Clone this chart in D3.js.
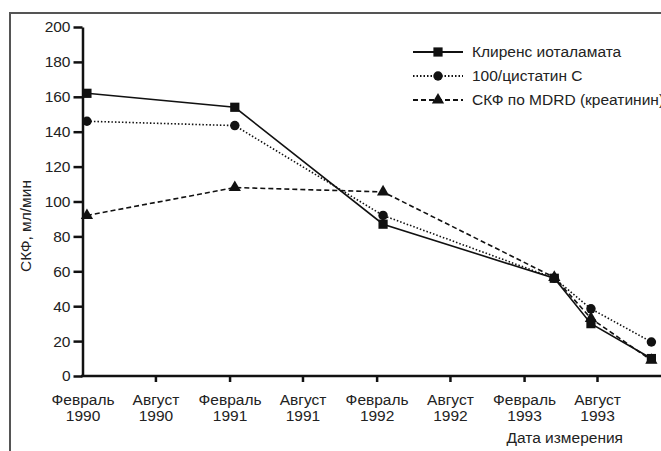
<!DOCTYPE html>
<html>
<head>
<meta charset="utf-8">
<script src="https://cdn.jsdelivr.net/npm/d3@7"></script>
<style>
  body { margin: 0; background: #fff; }
  svg { display: block; }
</style>
</head>
<body>
<svg id="chart" width="661" height="451"></svg>
<script>
var width = 661,
  height = 451,
  font = "'Liberation Sans', Arial, sans-serif",
  fontSize = 15.5;

// measurement dates and values
var dates = ["1990-02-12", "1991-02-14", "1992-02-17", "1993-04-17", "1993-07-17", "1993-12-14"];
var iothalamate = [162, 154, 87, 56, 30, 10];
var cystatin = [146, 143.5, 92, 56, 38.5, 19.5];
var mdrd = [92, 108, 105.5, 56.5, 33, 9];

var seriesNames = ["Клиренс иоталамата", "100/цистатин С", "СКФ по MDRD (креатинин)"];

var tickDates = ["1990-02-01", "1990-08-01", "1991-02-01", "1991-08-01",
                 "1992-02-01", "1992-08-01", "1993-02-01", "1993-08-01"];
var tickMonths = ["Февраль", "Август", "Февраль", "Август", "Февраль", "Август", "Февраль", "Август"];
var tickYears = ["1990", "1990", "1991", "1991", "1992", "1992", "1993", "1993"];
var yTicks = [0, 20, 40, 60, 80, 100, 120, 140, 160, 180, 200];

var parse = d3.timeParse("%Y-%m-%d");

var svg = d3.select("#chart")
  .style("font-family", font)
  .style("font-size", fontSize + "px");

// frame of the cropped figure
svg.append("path")
  .attr("d", "M10," + height + "V13H" + width)
  .attr("fill", "none")
  .attr("stroke", "#555")
  .attr("stroke-width", 2);

var x = d3.scaleTime()
  .domain([parse("1990-02-01"), parse("1993-08-01")])
  .range([82.5, 597]);

var y = d3.scaleLinear()
  .domain([0, 200])
  .range([376, 27]);

// y axis
var yAxis = svg.append("g")
  .attr("transform", "translate(82.5,0)")
  .call(d3.axisLeft(y).tickValues(yTicks).tickSize(9).tickPadding(3).tickSizeOuter(0));
yAxis.attr("font-family", font).attr("font-size", fontSize);
yAxis.select(".domain").attr("stroke", "#111").attr("stroke-width", 2.5);
yAxis.selectAll(".tick line").attr("stroke", "#111").attr("stroke-width", 2.5);
yAxis.selectAll(".tick text").attr("fill", "#222");

// x axis
svg.append("line")
  .attr("x1", 81).attr("x2", width)
  .attr("y1", y(0)).attr("y2", y(0))
  .attr("stroke", "#111").attr("stroke-width", 2.5);

var xAxis = svg.append("g")
  .attr("transform", "translate(0," + y(0) + ")")
  .call(d3.axisBottom(x).tickValues(tickDates.map(parse)).tickSize(6).tickFormat(""));
xAxis.attr("font-family", font).attr("font-size", fontSize);
xAxis.select(".domain").remove();
xAxis.selectAll(".tick line").attr("stroke", "#111").attr("stroke-width", 2.5)
  .filter(function (d, i) { return i === 0; }).remove();

xAxis.selectAll(".tick text")
  .attr("y", 0)
  .attr("dy", null)
  .attr("fill", "#222")
  .each(function (d, i) {
    var t = d3.select(this);
    t.append("tspan").attr("x", 0).attr("y", 29).text(tickMonths[i]);
    t.append("tspan").attr("x", 0).attr("y", 45).text(tickYears[i]);
  });

// axis titles
svg.append("text")
  .attr("transform", "translate(25,226) rotate(-90)")
  .attr("text-anchor", "middle")
  .attr("dominant-baseline", "central")
  .attr("fill", "#222")
  .text("СКФ, мл/мин");

svg.append("text")
  .attr("x", 623)
  .attr("y", 443)
  .attr("text-anchor", "end")
  .attr("fill", "#222")
  .text("Дата измерения");

// series
var series = [
  { name: seriesNames[0], values: iothalamate, dash: null, marker: "square" },
  { name: seriesNames[1], values: cystatin, dash: "1.5,2", marker: "circle" },
  { name: seriesNames[2], values: mdrd, dash: "5,3", marker: "triangle" }
];

var line = d3.line()
  .x(function (d) { return x(d.date); })
  .y(function (d) { return y(d.value); });

var symbols = {
  square: d3.symbol().type(d3.symbolSquare).size(85),
  circle: d3.symbol().type(d3.symbolCircle).size(70),
  triangle: d3.symbol().type(d3.symbolTriangle).size(65)
};

series.forEach(function (s) {
  var pts = s.values.map(function (v, i) { return { date: parse(dates[i]), value: v }; });

  svg.append("path")
    .datum(pts)
    .attr("fill", "none")
    .attr("stroke", "#111")
    .attr("stroke-width", 1.6)
    .attr("stroke-dasharray", s.dash)
    .attr("d", line);

  svg.selectAll(".m-" + s.marker)
    .data(pts)
    .enter().append("path")
    .attr("class", "m-" + s.marker)
    .attr("transform", function (d) { return "translate(" + x(d.date) + "," + y(d.value) + ")"; })
    .attr("d", symbols[s.marker]())
    .attr("fill", "#111");
});

// legend
var legend = svg.selectAll(".legend")
  .data(series)
  .enter().append("g")
  .attr("class", "legend")
  .attr("transform", function (d, i) { return "translate(413," + (52 + i * 24) + ")"; });

legend.append("line")
  .attr("x1", 0).attr("x2", 50)
  .attr("stroke", "#111")
  .attr("stroke-width", 1.8)
  .attr("stroke-dasharray", function (d) { return d.dash; });

legend.append("path")
  .attr("transform", "translate(25,0)")
  .attr("d", function (d) { return symbols[d.marker](); })
  .attr("fill", "#111");

legend.append("text")
  .attr("x", 59)
  .attr("y", 5)
  .attr("fill", "#222")
  .text(function (d) { return d.name; });
</script>
</body>
</html>
